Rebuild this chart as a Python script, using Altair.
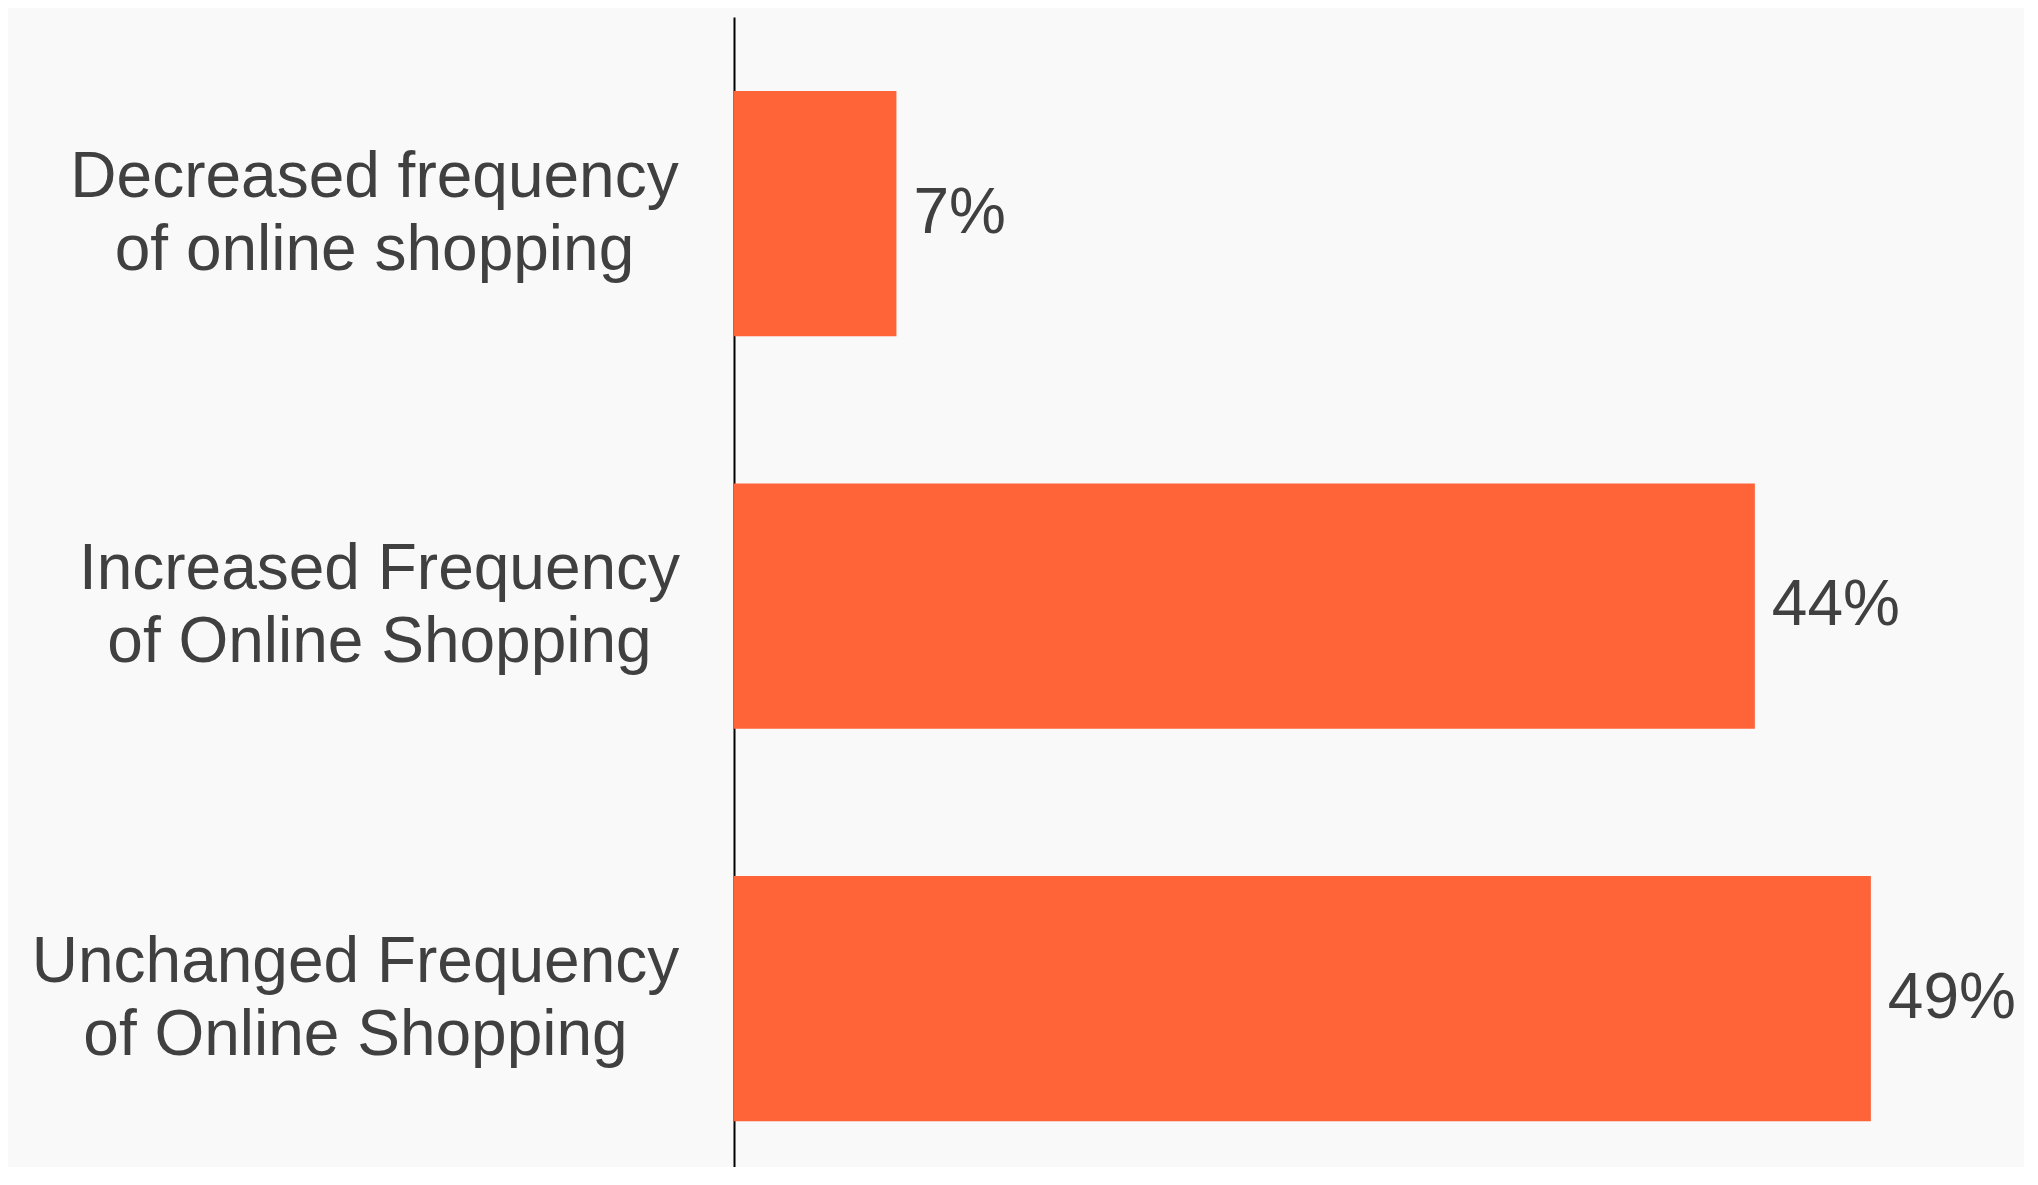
import altair as alt
import pandas as pd

categories = [
    "Decreased frequency\nof online shopping",
    "Increased Frequency\nof Online Shopping",
    "Unchanged Frequency\nof Online Shopping",
]
values = [7, 44, 49]
value_labels = ["7%", "44%", "49%"]

df = pd.DataFrame({"category": categories, "value": values, "label": value_labels})

BAR = "#FF6338"
TXT = "#404040"
FONT = "Liberation Sans"

pad_expr = (
    "datum.value == '" + categories[0].replace("\n", "\\n") + "' ? 360 : "
    "(datum.value == '" + categories[1].replace("\n", "\\n") + "' ? 355 : 379)"
)

y = alt.Y(
    "category:N",
    sort=None,
    title=None,
    scale=alt.Scale(paddingInner=0.375, paddingOuter=0.1525, align=0.618),
    axis=alt.Axis(
        labelExpr="split(datum.label, '\\n')",
        labelFont=FONT,
        labelFontSize=64,
        labelColor=TXT,
        labelLineHeight=73,
        labelAlign="center",
        labelBaseline="middle",
        labelPadding=alt.ExprRef(pad_expr),
        labelOffset=-36,
        labelLimit=0,
        ticks=False,
        tickSize=0,
        grid=False,
        domain=True,
        domainColor="#000000",
        domainWidth=2,
    ),
)
x = alt.X("value:Q", title=None, axis=None, scale=alt.Scale(domain=[0, 55.6], nice=False, zero=True))

bars = alt.Chart(df).mark_bar(color=BAR).encode(x=x, y=y)
texts = alt.Chart(df).mark_text(
    align="left", baseline="middle", dx=17, font=FONT, fontSize=64, color=TXT
).encode(x=x, y=y, text="label:N")

chart = (
    alt.layer(bars, texts)
    .properties(
        width=1290,
        height=1150,
        background="#F9F9F9",
        autosize=alt.AutoSizeParams(type="none"),
        padding={"left": 726, "top": 9, "right": 0, "bottom": 0},
    )
    .configure_view(stroke=None)
)

chart.save("out.html", embed_options={"renderer": "svg", "actions": False})
